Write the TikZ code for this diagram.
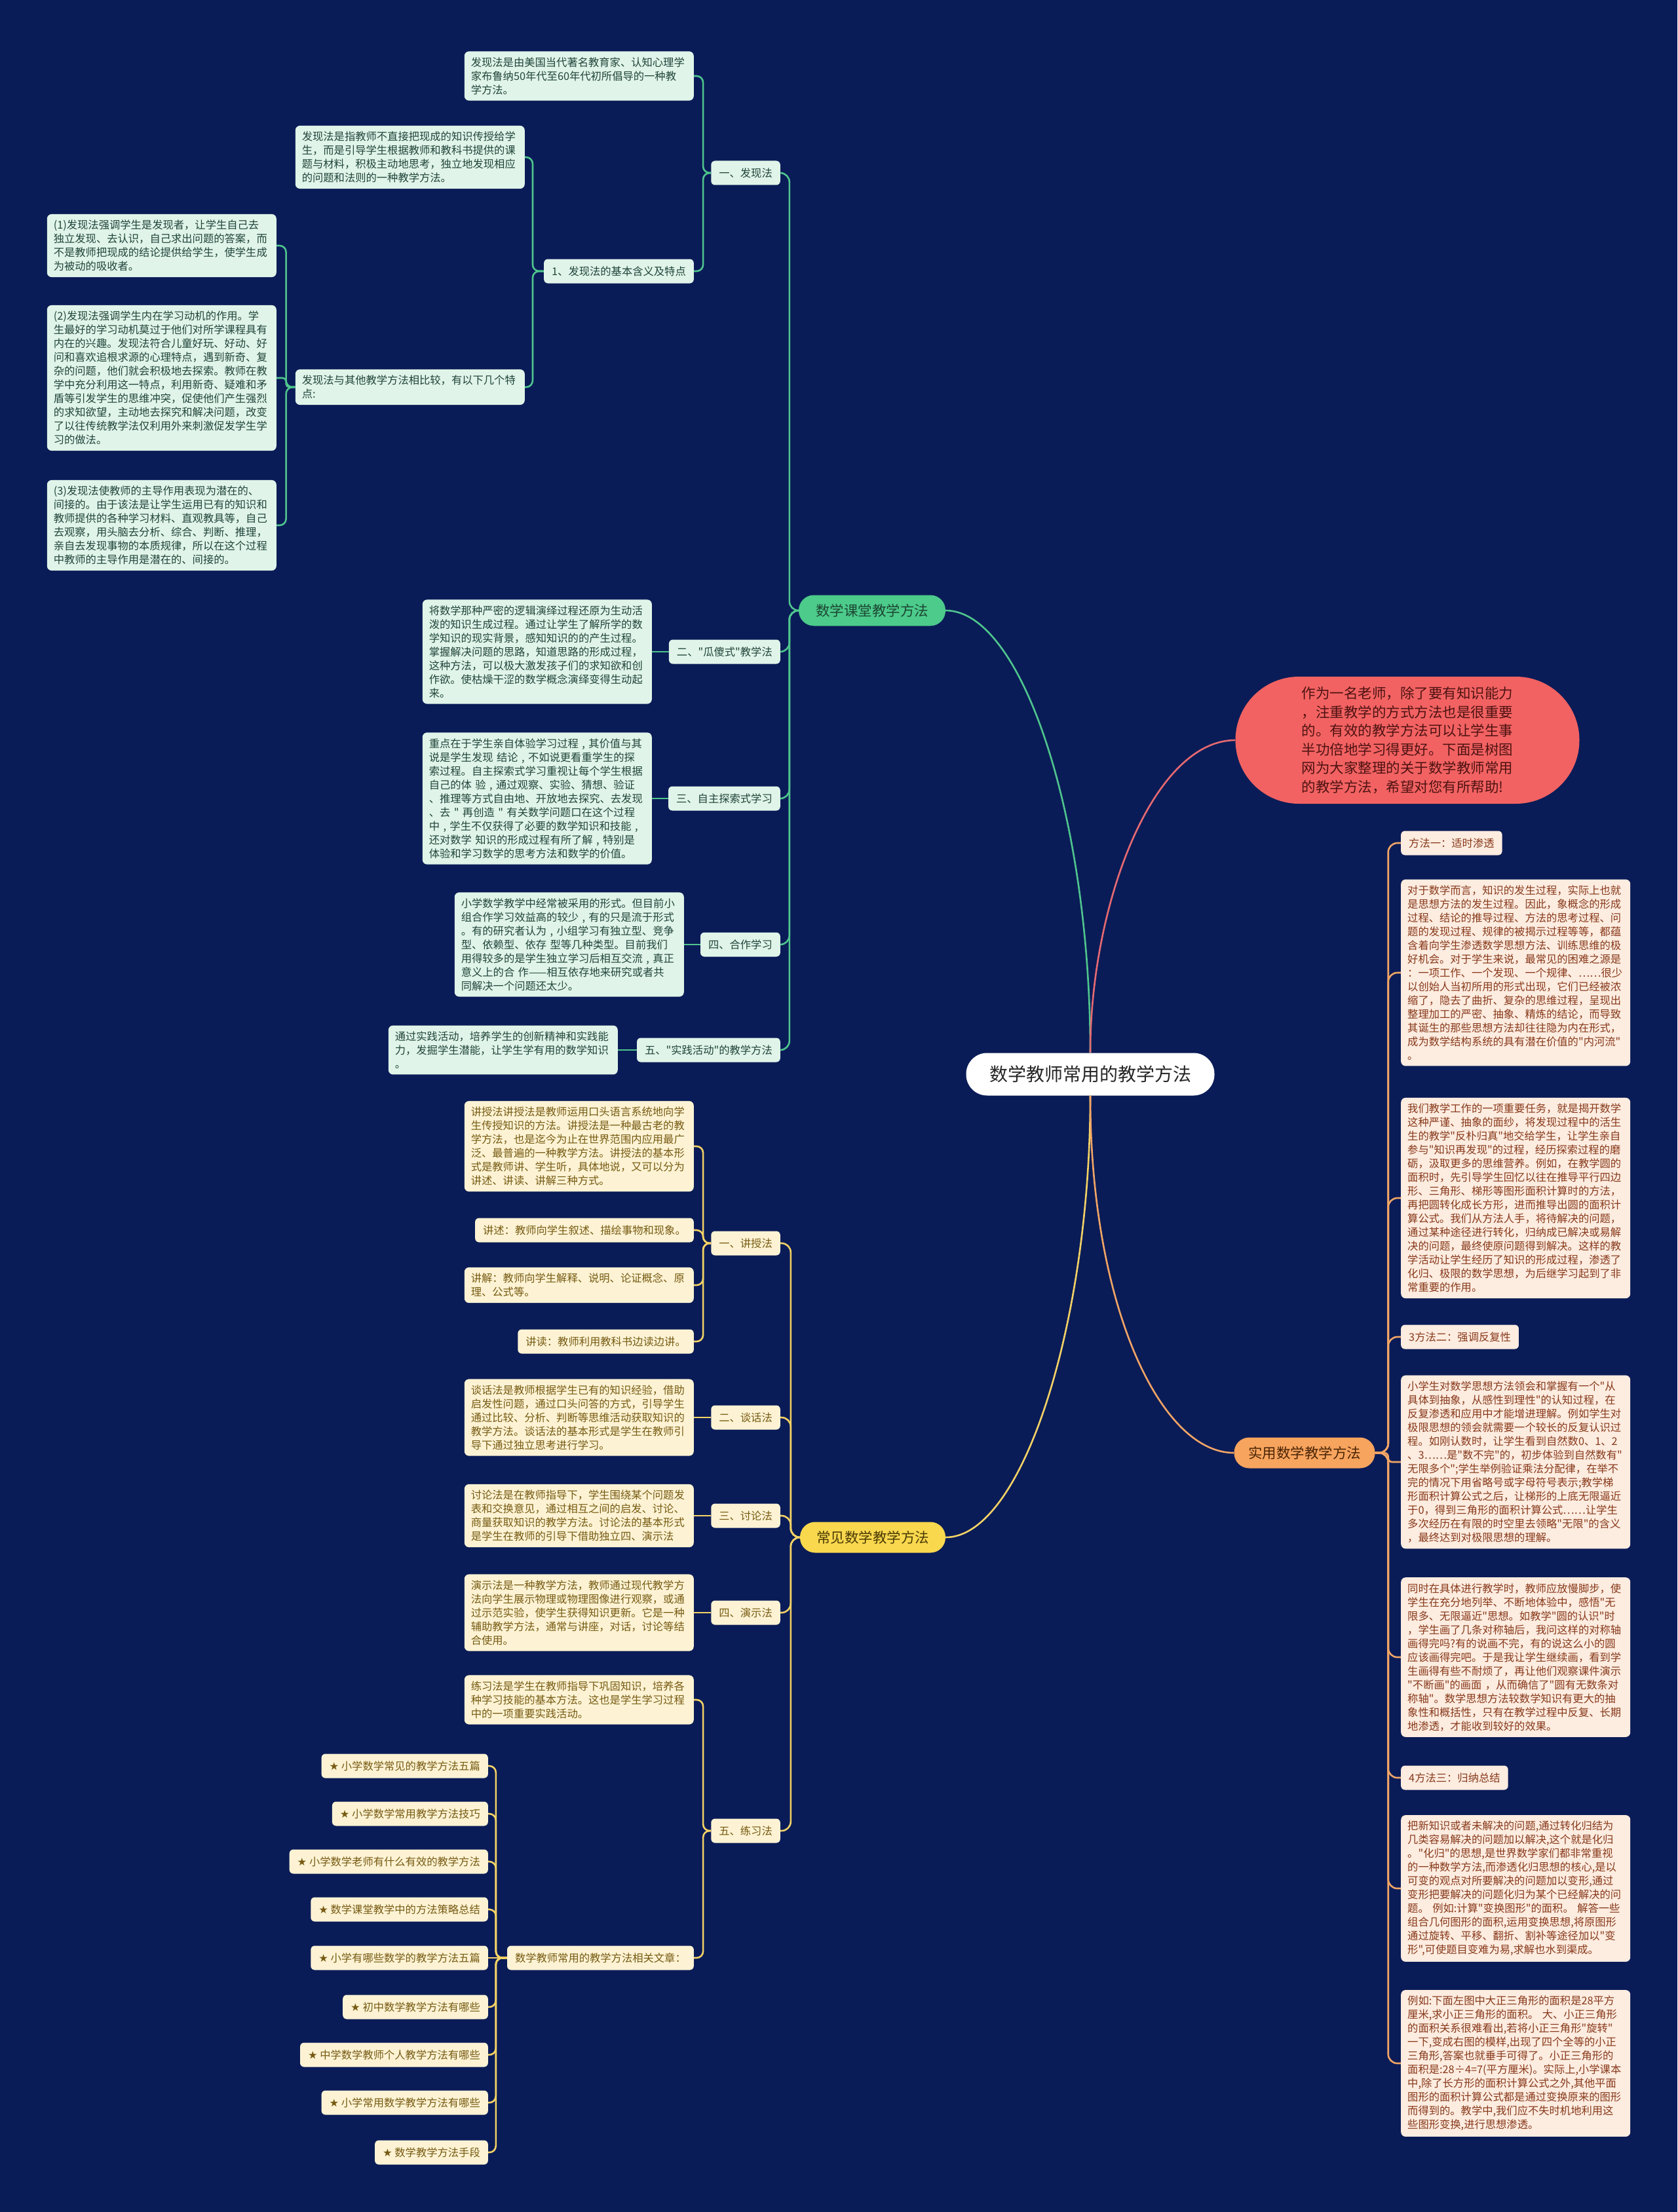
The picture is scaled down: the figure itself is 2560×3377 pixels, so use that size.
\documentclass[tikz,border=0pt]{standalone}
\usepackage{fontspec}
\setmainfont{Noto Sans CJK SC}[Ligatures=TeXOff]
\newfontfamily\symfont{DejaVu Sans}
\definecolor{bg}{HTML}{0A1C57}
\definecolor{gline}{HTML}{4FC58E}
\definecolor{gmfill}{HTML}{4CCB8B}
\definecolor{gmtext}{HTML}{1C4632}
\definecolor{gfill}{HTML}{E0F4E9}
\definecolor{gtext}{HTML}{21443A}
\definecolor{yline}{HTML}{F3D266}
\definecolor{ymfill}{HTML}{F9D84E}
\definecolor{ymtext}{HTML}{4A3A05}
\definecolor{yfill}{HTML}{FDF3D4}
\definecolor{ytext}{HTML}{765A12}
\definecolor{oline}{HTML}{F2A566}
\definecolor{omfill}{HTML}{F7A45E}
\definecolor{omtext}{HTML}{4A2406}
\definecolor{ofill}{HTML}{FDECE0}
\definecolor{otext}{HTML}{87391A}
\definecolor{rline}{HTML}{E66A72}
\definecolor{redfill}{HTML}{F26262}
\definecolor{redtext}{HTML}{4E1212}
\tikzset{
  tagbox/.style={rounded corners=6pt, inner xsep=12pt, inner ysep=4pt, minimum height=37pt, font=\fontsize{16.3}{21}\selectfont},
  leafbox/.style={rounded corners=7pt, inner xsep=10pt, inner ysep=9pt, text width=330pt, align=left, font=\fontsize{16.3}{21}\selectfont},
  gtag/.style={tagbox, fill=gfill, text=gtext, anchor=east},
  gleaf/.style={leafbox, fill=gfill, text=gtext, anchor=east},
  ytag/.style={tagbox, fill=yfill, text=ytext, anchor=east},
  yleaf/.style={leafbox, fill=yfill, text=ytext, anchor=east},
  otag/.style={tagbox, fill=ofill, text=otext, anchor=west},
  oleaf/.style={leafbox, fill=ofill, text=otext, anchor=west},
  rootn/.style={fill=white, rounded corners=32pt, minimum width=379pt, minimum height=65pt, font=\fontsize{28}{34}\selectfont, text=black!85},
  mainn/.style={rounded corners=23pt, minimum height=47pt, font=\fontsize{21.5}{26}\selectfont},
  gmain/.style={mainn, fill=gmfill, text=gmtext, minimum width=224pt},
  ymain/.style={mainn, fill=ymfill, text=ymtext, minimum width=222pt},
  omain/.style={mainn, fill=omfill, text=omtext, minimum width=215pt},
  rednode/.style={fill=redfill, rounded corners=97pt, minimum width=525pt, minimum height=194pt, align=left, font=\fontsize{21.5}{28.6}\selectfont, text=redtext},
  gconn/.style={draw=gline, line width=2.6pt, rounded corners=10pt},
  yconn/.style={draw=yline, line width=2.6pt, rounded corners=10pt},
  oconn/.style={draw=oline, line width=2.6pt, rounded corners=10pt},
  rconn/.style={draw=rline, line width=2.6pt},
}
\begin{document}
\begin{tikzpicture}[x=1pt,y=-1pt]
\fill[bg] (0,0) rectangle (2560,3377);
\useasboundingbox (0,0) rectangle (2560,3377);

% centre and main branches
\node[rootn] (root) at (1664,1640) {数学教师常用的教学方法};
\node[gmain] (gm) at (1331,932) {数学课堂教学方法};
\node[ymain] (ym) at (1332,2347) {常见数学教学方法};
\node[omain] (om) at (1991,2218) {实用数学教学方法};
\node[rednode] (red) at (2148,1130) {作为一名老师，除了要有知识能力\\，注重教学的方式方法也是很重要\\的。有效的教学方法可以让学生事\\半功倍地学习得更好。下面是树图\\网为大家整理的关于数学教师常用\\的教学方法，希望对您有所帮助!};

% green branch
\node[gtag] (g1) at (1191,264) {一、发现法};
\node[gleaf] (g1a) at (1059,116) {发现法是由美国当代著名教育家、认知心理学\\家布鲁纳50年代至60年代初所倡导的一种教\\学方法。};
\node[gtag] (g1b) at (1059,414) {1、发现法的基本含义及特点};
\node[gleaf] (g1b1) at (801,240) {发现法是指教师不直接把现成的知识传授给学\\生，而是引导学生根据教师和教科书提供的课\\题与材料，积极主动地思考，独立地发现相应\\的问题和法则的一种教学方法。};
\node[gleaf] (g1b2) at (801,591) {发现法与其他教学方法相比较，有以下几个特\\点:};
\node[gleaf] (f1) at (422,375) {(1)发现法强调学生是发现者，让学生自己去\\独立发现、去认识，自己求出问题的答案，而\\不是教师把现成的结论提供给学生，使学生成\\为被动的吸收者。};
\node[gleaf] (f2) at (422,577) {(2)发现法强调学生内在学习动机的作用。学\\生最好的学习动机莫过于他们对所学课程具有\\内在的兴趣。发现法符合儿童好玩、好动、好\\问和喜欢追根求源的心理特点，遇到新奇、复\\杂的问题，他们就会积极地去探索。教师在教\\学中充分利用这一特点，利用新奇、疑难和矛\\盾等引发学生的思维冲突，促使他们产生强烈\\的求知欲望，主动地去探究和解决问题，改变\\了以往传统教学法仅利用外来刺激促发学生学\\习的做法。};
\node[gleaf] (f3) at (422,802) {(3)发现法使教师的主导作用表现为潜在的、\\间接的。由于该法是让学生运用已有的知识和\\教师提供的各种学习材料、直观教具等，自己\\去观察，用头脑去分析、综合、判断、推理，\\亲自去发现事物的本质规律，所以在这个过程\\中教师的主导作用是潜在的、间接的。};
\node[gtag] (g2) at (1191,995) {二、"瓜傻式"教学法};
\node[gleaf] (g2a) at (995,995) {将数学那种严密的逻辑演绎过程还原为生动活\\泼的知识生成过程。通过让学生了解所学的数\\学知识的现实背景，感知知识的的产生过程。\\掌握解决问题的思路，知道思路的形成过程，\\这种方法，可以极大激发孩子们的求知欲和创\\作欲。使枯燥干涩的数学概念演绎变得生动起\\来。};
\node[gtag] (g3) at (1191,1219) {三、自主探索式学习};
\node[gleaf] (g3a) at (995,1219) {重点在于学生亲自体验学习过程 , 其价值与其\\说是学生发现 结论 , 不如说更看重学生的探\\索过程。自主探索式学习重视让每个学生根据\\自己的体 验 , 通过观察、实验、猜想、验证\\、推理等方式自由地、开放地去探究、去发现\\、去 " 再创造 " 有关数学问题口在这个过程\\中 , 学生不仅获得了必要的数学知识和技能 ,\\还对数学 知识的形成过程有所了解 , 特别是\\体验和学习数学的思考方法和数学的价值。};
\node[gtag] (g4) at (1191,1442) {四、合作学习};
\node[gleaf] (g4a) at (1044,1442) {小学数学教学中经常被采用的形式。但目前小\\组合作学习效益高的较少 , 有的只是流于形式\\。有的研究者认为 , 小组学习有独立型、竞争\\型、依赖型、依存 型等几种类型。目前我们\\用得较多的是学生独立学习后相互交流 , 真正\\意义上的合 作——相互依存地来研究或者共\\同解决一个问题还太少。};
\node[gtag] (g5) at (1191,1603) {五、"实践活动"的教学方法};
\node[gleaf] (g5a) at (943,1603) {通过实践活动，培养学生的创新精神和实践能\\力，发掘学生潜能，让学生学有用的数学知识\\。};

% yellow branch
\node[ytag] (y1) at (1191,1898) {一、讲授法};
\node[yleaf] (y1a) at (1059,1750) {讲授法讲授法是教师运用口头语言系统地向学\\生传授知识的方法。讲授法是一种最古老的教\\学方法，也是迄今为止在世界范围内应用最广\\泛、最普遍的一种教学方法。讲授法的基本形\\式是教师讲、学生听，具体地说，又可以分为\\讲述、讲读、讲解三种方式。};
\node[ytag] (y1b) at (1059,1878) {讲述：教师向学生叙述、描绘事物和现象。};
\node[yleaf] (y1c) at (1059,1962) {讲解：教师向学生解释、说明、论证概念、原\\理、公式等。};
\node[ytag] (y1d) at (1059,2048) {讲读：教师利用教科书边读边讲。};
\node[ytag] (y2) at (1191,2164) {二、谈话法};
\node[yleaf] (y2a) at (1059,2164) {谈话法是教师根据学生已有的知识经验，借助\\启发性问题，通过口头问答的方式，引导学生\\通过比较、分析、判断等思维活动获取知识的\\教学方法。谈话法的基本形式是学生在教师引\\导下通过独立思考进行学习。};
\node[ytag] (y3) at (1191,2314) {三、讨论法};
\node[yleaf] (y3a) at (1059,2314) {讨论法是在教师指导下，学生围绕某个问题发\\表和交换意见，通过相互之间的启发、讨论、\\商量获取知识的教学方法。讨论法的基本形式\\是学生在教师的引导下借助独立四、演示法};
\node[ytag] (y4) at (1191,2462) {四、演示法};
\node[yleaf] (y4a) at (1059,2462) {演示法是一种教学方法，教师通过现代教学方\\法向学生展示物理或物理图像进行观察，或通\\过示范实验，使学生获得知识更新。它是一种\\辅助教学方法，通常与讲座，对话，讨论等结\\合使用。};
\node[ytag] (y5) at (1191,2795) {五、练习法};
\node[yleaf] (y5a) at (1059,2595) {练习法是学生在教师指导下巩固知识，培养各\\种学习技能的基本方法。这也是学生学习过程\\中的一项重要实践活动。};
\node[ytag] (y5b) at (1059,2989) {数学教师常用的教学方法相关文章：};
\node[ytag] (s1) at (745,2696) {{\symfont ★} 小学数学常见的教学方法五篇};
\node[ytag] (s2) at (745,2769) {{\symfont ★} 小学数学常用教学方法技巧};
\node[ytag] (s3) at (745,2842) {{\symfont ★} 小学数学老师有什么有效的教学方法};
\node[ytag] (s4) at (745,2915) {{\symfont ★} 数学课堂教学中的方法策略总结};
\node[ytag] (s5) at (745,2989) {{\symfont ★} 小学有哪些数学的教学方法五篇};
\node[ytag] (s6) at (745,3064) {{\symfont ★} 初中数学教学方法有哪些};
\node[ytag] (s7) at (745,3137) {{\symfont ★} 中学数学教师个人教学方法有哪些};
\node[ytag] (s8) at (745,3210) {{\symfont ★} 小学常用数学教学方法有哪些};
\node[ytag] (s9) at (745,3286) {{\symfont ★} 数学教学方法手段};

% orange branch
\node[otag] (o1) at (2138,1287) {方法一：适时渗透};
\node[oleaf] (o2) at (2138,1485) {对于数学而言，知识的发生过程，实际上也就\\是思想方法的发生过程。因此，象概念的形成\\过程、结论的推导过程、方法的思考过程、问\\题的发现过程、规律的被揭示过程等等，都蕴\\含着向学生渗透数学思想方法、训练思维的极\\好机会。对于学生来说，最常见的困难之源是\\：一项工作、一个发现、一个规律、……很少\\以创始人当初所用的形式出现，它们已经被浓\\缩了，隐去了曲折、复杂的思维过程，呈现出\\整理加工的严密、抽象、精炼的结论，而导致\\其诞生的那些思想方法却往往隐为内在形式，\\成为数学结构系统的具有潜在价值的"内河流"\\。};
\node[oleaf] (o3) at (2138,1829) {我们教学工作的一项重要任务，就是揭开数学\\这种严谨、抽象的面纱，将发现过程中的活生\\生的教学"反朴归真"地交给学生，让学生亲自\\参与"知识再发现"的过程，经历探索过程的磨\\砺，汲取更多的思维营养。例如，在教学圆的\\面积时，先引导学生回忆以往在推导平行四边\\形、三角形、梯形等图形面积计算时的方法，\\再把圆转化成长方形，进而推导出圆的面积计\\算公式。我们从方法人手，将待解决的问题，\\通过某种途径进行转化，归纳成已解决或易解\\决的问题，最终使原问题得到解决。这样的教\\学活动让学生经历了知识的形成过程，渗透了\\化归、极限的数学思想，为后继学习起到了非\\常重要的作用。};
\node[otag] (o4) at (2138,2041) {3方法二：强调反复性};
\node[oleaf] (o5) at (2138,2232) {小学生对数学思想方法领会和掌握有一个"从\\具体到抽象，从感性到理性"的认知过程，在\\反复渗透和应用中才能增进理解。例如学生对\\极限思想的领会就需要一个较长的反复认识过\\程。如刚认数时，让学生看到自然数0、1、2\\、3……是"数不完"的，初步体验到自然数有"\\无限多个";学生举例验证乘法分配律，在举不\\完的情况下用省略号或字母符号表示;教学梯\\形面积计算公式之后，让梯形的上底无限逼近\\于0，得到三角形的面积计算公式……让学生\\多次经历在有限的时空里去领略"无限"的含义\\，最终达到对极限思想的理解。};
\node[oleaf] (o6) at (2138,2530) {同时在具体进行教学时，教师应放慢脚步，使\\学生在充分地列举、不断地体验中，感悟"无\\限多、无限逼近"思想。如教学"圆的认识"时\\，学生画了几条对称轴后，我问这样的对称轴\\画得完吗?有的说画不完，有的说这么小的圆\\应该画得完吧。于是我让学生继续画，看到学\\生画得有些不耐烦了，再让他们观察课件演示\\"不断画"的画面 ，从而确信了"圆有无数条对\\称轴"。数学思想方法较数学知识有更大的抽\\象性和概括性，只有在教学过程中反复、长期\\地渗透，才能收到较好的效果。};
\node[otag] (o7) at (2138,2714) {4方法三：归纳总结};
\node[oleaf] (o8) at (2138,2883) {把新知识或者未解决的问题,通过转化归结为\\几类容易解决的问题加以解决,这个就是化归\\。"化归"的思想,是世界数学家们都非常重视\\的一种数学方法,而渗透化归思想的核心,是以\\可变的观点对所要解决的问题加以变形,通过\\变形把要解决的问题化归为某个已经解决的问\\题。 例如:计算"变换图形"的面积。 解答一些\\组合几何图形的面积,运用变换思想,将原图形\\通过旋转、平移、翻折、割补等途径加以"变\\形",可使题目变难为易,求解也水到渠成。};
\node[oleaf] (o9) at (2138,3150) {例如:下面左图中大正三角形的面积是28平方\\厘米,求小正三角形的面积。 大、小正三角形\\的面积关系很难看出,若将小正三角形"旋转"\\一下,变成右图的模样,出现了四个全等的小正\\三角形,答案也就垂手可得了。小正三角形的\\面积是:28÷4=7(平方厘米)。实际上,小学课本\\中,除了长方形的面积计算公式之外,其他平面\\图形的面积计算公式都是通过变换原来的图形\\而得到的。教学中,我们应不失时机地利用这\\些图形变换,进行思想渗透。};

% connectors: root to main branches
\draw[gconn] (root.north) .. controls (1664,1250) and (1560,932) .. (gm.east);
\draw[rconn] (root.north) .. controls (1664,1380) and (1760,1130) .. (red.west);
\draw[yconn] (root.south) .. controls (1664,2020) and (1560,2347) .. (ym.east);
\draw[oconn] (root.south) .. controls (1664,1990) and (1770,2218) .. (om.west);

% green connectors
\foreach \c in {g1,g2,g3,g4,g5} \draw[gconn, rounded corners=14pt] (gm.west) -- ++(-14,0) |- (\c.east);
\foreach \c in {g1a,g1b} \draw[gconn] (g1.west) -- ++(-12,0) |- (\c.east);
\foreach \c in {g1b1,g1b2} \draw[gconn] (g1b.west) -- ++(-17,0) |- (\c.east);
\foreach \c in {f1,f3} \draw[gconn] (g1b2.west) -- ++(-14,0) |- (\c.east);
\draw[gconn, rounded corners=5pt] (g1b2.west) -- ++(-14,0) |- (f2.east);
\draw[gconn] (g2.west) -- (g2a.east);
\draw[gconn] (g3.west) -- (g3a.east);
\draw[gconn] (g4.west) -- (g4a.east);
\draw[gconn] (g5.west) -- (g5a.east);

% yellow connectors
\foreach \c in {y1,y2,y3,y4,y5} \draw[yconn, rounded corners=14pt] (ym.west) -- ++(-14,0) |- (\c.east);
\foreach \c in {y1a,y1b,y1c,y1d} \draw[yconn] (y1.west) -- ++(-12,0) |- (\c.east);
\draw[yconn] (y2.west) -- (y2a.east);
\draw[yconn] (y3.west) -- (y3a.east);
\draw[yconn] (y4.west) -- (y4a.east);
\foreach \c in {y5a,y5b} \draw[yconn] (y5.west) -- ++(-12,0) |- (\c.east);
\foreach \c in {s1,s2,s3,s4,s6,s7,s8,s9} \draw[yconn] (y5b.west) -- ++(-17,0) |- (\c.east);
\draw[yconn] (y5b.west) -- (s5.east);

% orange connectors
\foreach \c in {o1,o2,o3,o4,o6,o7,o8,o9} \draw[oconn, rounded corners=14pt] (om.east) -- ++(20,0) |- (\c.west);
\draw[oconn, rounded corners=6pt] (om.east) -- ++(20,0) |- (o5.west);
\end{tikzpicture}
\end{document}
